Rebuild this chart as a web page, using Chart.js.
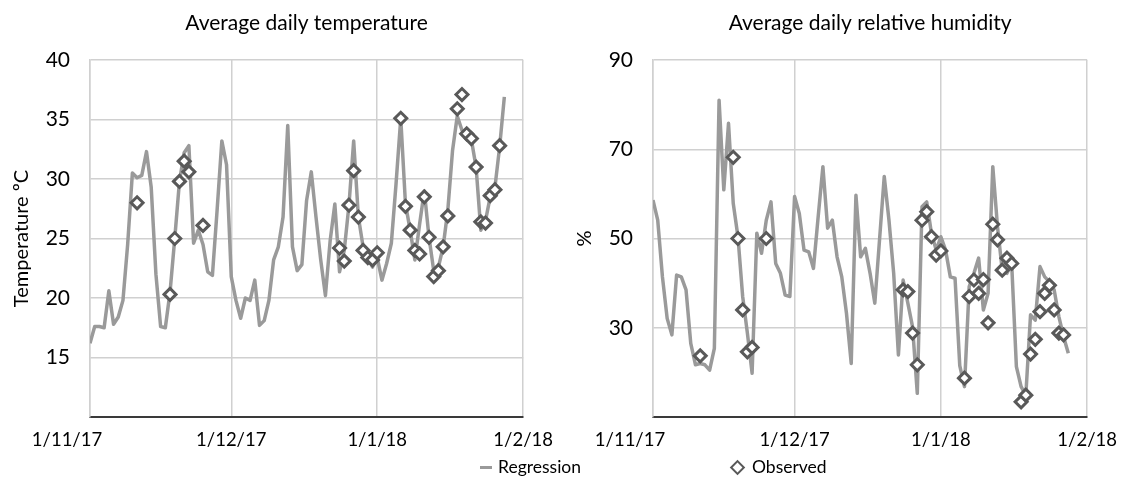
<!DOCTYPE html>
<html>
<head>
<meta charset="utf-8">
<script src="https://cdn.jsdelivr.net/npm/chart.js@4.4.1/dist/chart.umd.min.js"></script>
<style>
  html, body { margin: 0; padding: 0; background: #ffffff; }
  body { width: 1129px; height: 481px; position: relative; overflow: hidden; font-family: Lato, "Open Sans", sans-serif; }
  canvas { position: absolute; top: 0; }
  #tempChart { left: 0; }
  #humChart { left: 565px; }
  .legText { position: absolute; top: 456px; font-size: 17.5px; line-height: 22px; color: #000; white-space: nowrap; }
  .legLine { position: absolute; left: 480px; top: 466px; width: 12px; height: 3px; background: #9a9a9a; }
  .legDiamond { position: absolute; left: 732px; top: 462px; width: 7px; height: 7px; border: 2.5px solid #595959; background: #fff; transform: rotate(45deg); }
</style>
</head>
<body>
<canvas id="tempChart" width="565" height="481"></canvas>
<canvas id="humChart" width="564" height="481"></canvas>
<div class="legLine"></div>
<div class="legText" style="left:498px">Regression</div>
<div class="legDiamond"></div>
<div class="legText" style="left:752px">Observed</div>
<script>
// ---------------- data ----------------
// Regression series: one value per day, starting 1/11/17
const startDate = '1/11/17';
const tempRegression = [
  16.2, 17.6, 17.6, 17.5, 20.6, 17.8, 18.4, 19.8, 24.5, 30.5,
  30.1, 30.3, 32.3, 29.3, 22.0, 17.6, 17.5, 20.5, 25.0, 29.8,
  32.2, 32.8, 24.6, 25.7, 24.5, 22.2, 21.9, 27.4, 33.2, 31.2,
  21.8, 19.8, 18.3, 20.0, 19.8, 21.5, 17.7, 18.1, 19.8, 23.2,
  24.3, 26.8, 34.5, 24.3, 22.3, 22.8, 28.2, 30.6, 26.8, 23.2,
  20.2, 24.8, 27.9, 22.2, 24.0, 27.8, 33.2, 26.8, 24.3, 23.4,
  22.6, 23.4, 21.5, 22.9, 24.6, 29.6, 35.1, 27.9, 25.7, 23.2,
  26.2, 29.0, 25.1, 22.3, 22.6, 24.3, 27.4, 32.4, 35.3, 34.1,
  33.8, 33.3, 31.0, 25.7, 26.5, 28.5, 29.3, 32.7, 36.9
];
const humRegression = [
  58.6, 54.1, 41.4, 32.1, 28.4, 41.8, 41.4, 38.5, 26.5, 21.7,
  22.0, 21.7, 20.5, 25.4, 81.0, 60.9, 75.8, 57.9, 50.4, 37.0,
  28.8, 19.8, 51.2, 46.7, 54.1, 58.2, 44.4, 42.2, 37.3, 37.0,
  59.4, 55.6, 47.4, 47.0, 43.3, 54.9, 66.1, 52.3, 54.1, 45.9,
  41.4, 33.2, 22.0, 59.7, 45.9, 47.8, 42.2, 35.5, 49.7, 63.9,
  54.1, 42.2, 23.9, 40.7, 35.5, 30.2, 15.3, 57.1, 58.2, 51.2,
  47.4, 50.4, 47.4, 41.4, 41.1, 21.5, 16.8, 39.2, 42.2, 45.6,
  34.0, 37.7, 66.1, 52.6, 42.9, 42.2, 44.4, 21.3, 16.8, 14.9,
  32.9, 31.7, 43.7, 41.4, 40.3, 38.5, 32.5, 28.0, 24.3
];
// Observed measurements
const obsDates = [
  '11/11/17', '18/11/17', '19/11/17', '20/11/17', '21/11/17', '22/11/17', '25/11/17',
  '24/12/17', '25/12/17', '26/12/17', '27/12/17', '28/12/17', '29/12/17', '30/12/17', '31/12/17', '1/1/18',
  '6/1/18', '7/1/18', '8/1/18', '9/1/18', '10/1/18', '11/1/18', '12/1/18', '13/1/18', '14/1/18', '15/1/18', '16/1/18',
  '18/1/18', '19/1/18', '20/1/18', '21/1/18', '22/1/18', '23/1/18', '24/1/18', '25/1/18', '26/1/18', '27/1/18'
];
const tempObserved = [
  28.0, 20.3, 25.0, 29.8, 31.5, 30.6, 26.1,
  24.2, 23.1, 27.8, 30.7, 26.8, 24.0, 23.4, 23.2, 23.8,
  35.1, 27.7, 25.7, 24.0, 23.7, 28.5, 25.1, 21.8, 22.3, 24.3, 26.9,
  35.9, 37.1, 33.8, 33.4, 31.0, 26.4, 26.3, 28.6, 29.1, 32.8
];
const humObserved = [
  23.7, 68.2, 50.0, 34.0, 24.6, 25.6, 50.0,
  38.5, 38.1, 28.8, 21.7, 54.1, 56.0, 50.4, 46.3, 47.2,
  18.7, 37.0, 40.7, 37.7, 40.8, 31.1, 53.2, 49.7, 42.9, 45.6, 44.4,
  13.4, 14.9, 24.1, 27.4, 33.6, 37.7, 39.5, 34.0, 28.8, 28.4
];
// Axis ticks
const xTickDates = ['1/11/17', '1/12/17', '1/1/18', '1/2/18'];
const tempTicks = [10, 15, 20, 25, 30, 35, 40];
const humTicks = [10, 30, 50, 70, 90];

// ---------------- helpers ----------------
function parseDate(s) {
  const p = s.split('/').map(Number);
  return Date.UTC(2000 + p[2], p[1] - 1, p[0]);
}
const DAY = 86400000;
const t0 = parseDate(startDate);
function dayOffset(s) { return Math.round((parseDate(s) - t0) / DAY); }
const xTickDays = xTickDates.map(dayOffset);
const obsDays = obsDates.map(dayOffset);

const FONT = 'Lato, "Open Sans", sans-serif';
const GRID = '#d0d0d0';

// shift first x label a bit to the left, as in the original layout
const firstLabelShift = {
  id: 'firstLabelShift',
  beforeDraw(chart) {
    const s = chart.scales.x;
    const items = s.getLabelItems();
    if (items && items.length && !items._shifted) {
      items[0].options.translation[0] -= 23;
      items._shifted = true;
    }
  }
};

function buildChart(canvasId, title, yTitle, yTicks, regression, observed, yAxisWidth, yTitlePad) {
  const ctx = document.getElementById(canvasId).getContext('2d');
  return new Chart(ctx, {
    type: 'line',
    data: {
      datasets: [
        {
          label: 'Observed',
          data: observed.map((v, i) => ({ x: obsDays[i], y: v })),
          showLine: false,
          pointStyle: 'rectRot',
          pointRadius: 6,
          pointHoverRadius: 6,
          pointBorderWidth: 3,
          pointBorderColor: '#595959',
          pointBackgroundColor: '#ffffff',
          borderColor: '#595959',
          backgroundColor: '#ffffff',
          order: 0
        },
        {
          label: 'Regression',
          data: regression.map((v, i) => ({ x: i, y: v })),
          borderColor: '#9a9a9a',
          borderWidth: 3.5,
          borderJoinStyle: 'round',
          pointRadius: 0,
          pointHoverRadius: 0,
          tension: 0,
          fill: false,
          order: 1
        }
      ]
    },
    options: {
      responsive: false,
      animation: false,
      devicePixelRatio: 1,
      events: [],
      layout: { padding: { left: 0, right: 33, top: 0, bottom: 0 } },
      plugins: {
        legend: { display: false },
        tooltip: { enabled: false },
        title: { display: false }
      },
      scales: {
        top: {
          type: 'linear',
          position: 'top',
          min: xTickDays[0],
          max: xTickDays[xTickDays.length - 1],
          afterFit: (s) => { s.height = 60; },
          ticks: { display: false },
          grid: { display: false, drawTicks: false },
          border: { display: false },
          title: {
            display: true,
            text: title,
            color: '#000',
            font: { family: FONT, size: 21, weight: 'normal' },
            padding: { top: 11, bottom: 0 }
          }
        },
        x: {
          type: 'linear',
          position: 'bottom',
          min: xTickDays[0],
          max: xTickDays[xTickDays.length - 1],
          afterBuildTicks: (s) => { s.ticks = xTickDays.map(v => ({ value: v })); },
          afterFit: (s) => { s.height = 64; },
          ticks: {
            callback: (v) => { const k = xTickDays.indexOf(v); return k >= 0 ? xTickDates[k] : ''; },
            color: '#000',
            font: { family: FONT, size: 18.5 },
            padding: 12,
            maxRotation: 0,
            autoSkip: false
          },
          grid: { color: GRID, lineWidth: 1.5, drawTicks: false },
          border: { display: true, color: '#3a3a3a', width: 2 }
        },
        y: {
          min: yTicks[0],
          max: yTicks[yTicks.length - 1],
          afterBuildTicks: (s) => { s.ticks = yTicks.map(v => ({ value: v })); },
          afterFit: (s) => { s.width = yAxisWidth; },
          ticks: {
            callback: (v) => (v === yTicks[0] ? '' : String(v)),
            color: '#000',
            font: { family: FONT, size: 21 },
            padding: 20
          },
          grid: {
            color: (c) => (c.tick && c.tick.value === yTicks[0] ? 'rgba(0,0,0,0)' : GRID),
            lineWidth: 1.5,
            drawTicks: false
          },
          border: { display: true, color: GRID, width: 1.5 },
          title: {
            display: true,
            text: yTitle,
            color: '#000',
            font: { family: FONT, size: 20 },
            padding: { top: yTitlePad, bottom: 0 }
          }
        }
      }
    },
    plugins: [firstLabelShift]
  });
}

buildChart('tempChart', 'Average daily temperature', 'Temperature ºC', tempTicks, tempRegression, tempObserved, 90, 10);
buildChart('humChart', 'Average daily relative humidity', '%', humTicks, humRegression, humObserved, 88, 8);
</script>
</body>
</html>
